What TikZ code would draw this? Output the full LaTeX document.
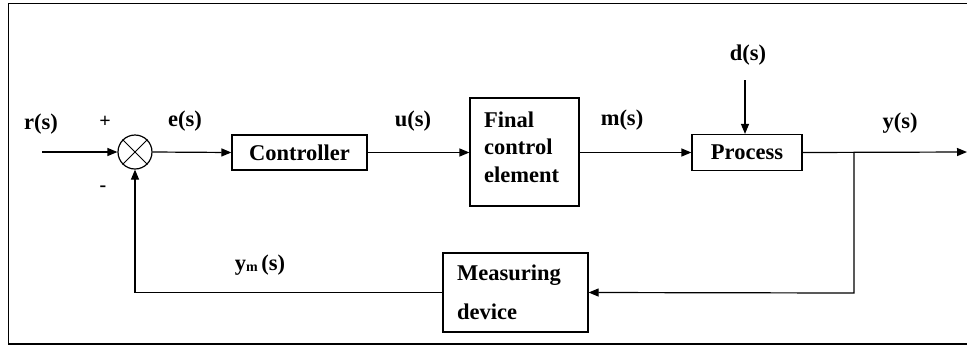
\documentclass[tikz,border=0pt]{standalone}
\usepackage{fontspec}
\setmainfont{Liberation Serif}
\usetikzlibrary{arrows.meta}
\begin{document}
\begin{tikzpicture}[x=1pt,y=-1pt,
  lbl/.style={font=\fontsize{22.5}{27}\selectfont\bfseries, inner sep=0pt},
  blk/.style={draw, line width=1.2pt, inner sep=0pt, font=\fontsize{22.5}{27}\selectfont\bfseries},
  wire/.style={line width=1.2pt},
  conn/.style={line width=1.2pt, -{Triangle[length=10pt,width=8pt]}},
  sgn/.style={font=\fontsize{20}{22}\selectfont\bfseries, inner sep=0pt}]
\useasboundingbox (0,0) rectangle (967,349);
% frame (right edge cut off)
\draw[line width=1.8pt] (967,3.5) -- (8.5,3.5) -- (8.5,344) -- (967,344);

% summing junction
\node[draw, circle, line width=1.2pt, minimum size=34pt, inner sep=0pt] (sum) at (135,152) {};
\draw[line width=0.9pt] (sum.north west) -- (sum.south east) (sum.north east) -- (sum.south west);

% blocks
\node[blk, minimum width=135pt, minimum height=35pt] (ctrl) at (299.5,152.5) {Controller};
\node[blk, minimum width=109pt, minimum height=108pt] (fce) at (524.5,152) {};
\node[lbl, anchor=west, align=left, font=\fontsize{22.5}{27.5}\selectfont\bfseries] (fcetext) at (484,147) {Final\\control\\element};
\node[blk, minimum width=110pt, minimum height=36pt] (proc) at (747,152.5) {Process};
\node[blk, minimum width=145pt, minimum height=79pt] (meas) at (515.5,292.5) {};
\node[lbl, anchor=west, align=left, font=\fontsize{22.5}{39}\selectfont\bfseries] (meastext) at (457,292.5) {Measuring\\device};

% coordinates
\coordinate (in) at (42,152);
\coordinate (out) at (967,152);
\coordinate (br) at (854,152);
\coordinate (brd) at (854,293);
\coordinate (fbl) at (sum.south |- meas.west);
\coordinate (dtop) at (745,80);

% connectors
\draw[conn] (in) -- (sum.west);
\draw[conn] (sum.east) -- (ctrl.west);
\draw[conn] (ctrl.east) -- (fce.west |- ctrl.east);
\draw[conn] (fce.east |- proc.west) -- (proc.west);
\draw[conn] (proc.east) -- (out);
\draw[conn] (dtop) -- (dtop |- proc.north);
\draw[conn] (br) -- (brd) -- (meas.east);
\draw[conn] (meas.west) -- (fbl) -- (sum.south);

% labels
\node[lbl] (lr) at (41,124) {r(s)};
\node[sgn] (lplus) at (105,122) {+};
\node[sgn] (lminus) at (103,189) {-};
\node[lbl] (le) at (185,121) {e(s)};
\node[lbl] (lu) at (413,121) {u(s)};
\node[lbl] (lm) at (622,120) {m(s)};
\node[lbl] (ld) at (748,55) {d(s)};
\node[lbl] (ly) at (900,123) {y(s)};
\node[lbl] (lym) at (260,265) {y\raisebox{-1pt}{\fontsize{14}{14}\selectfont m}\,(s)};
\end{tikzpicture}
\end{document}
